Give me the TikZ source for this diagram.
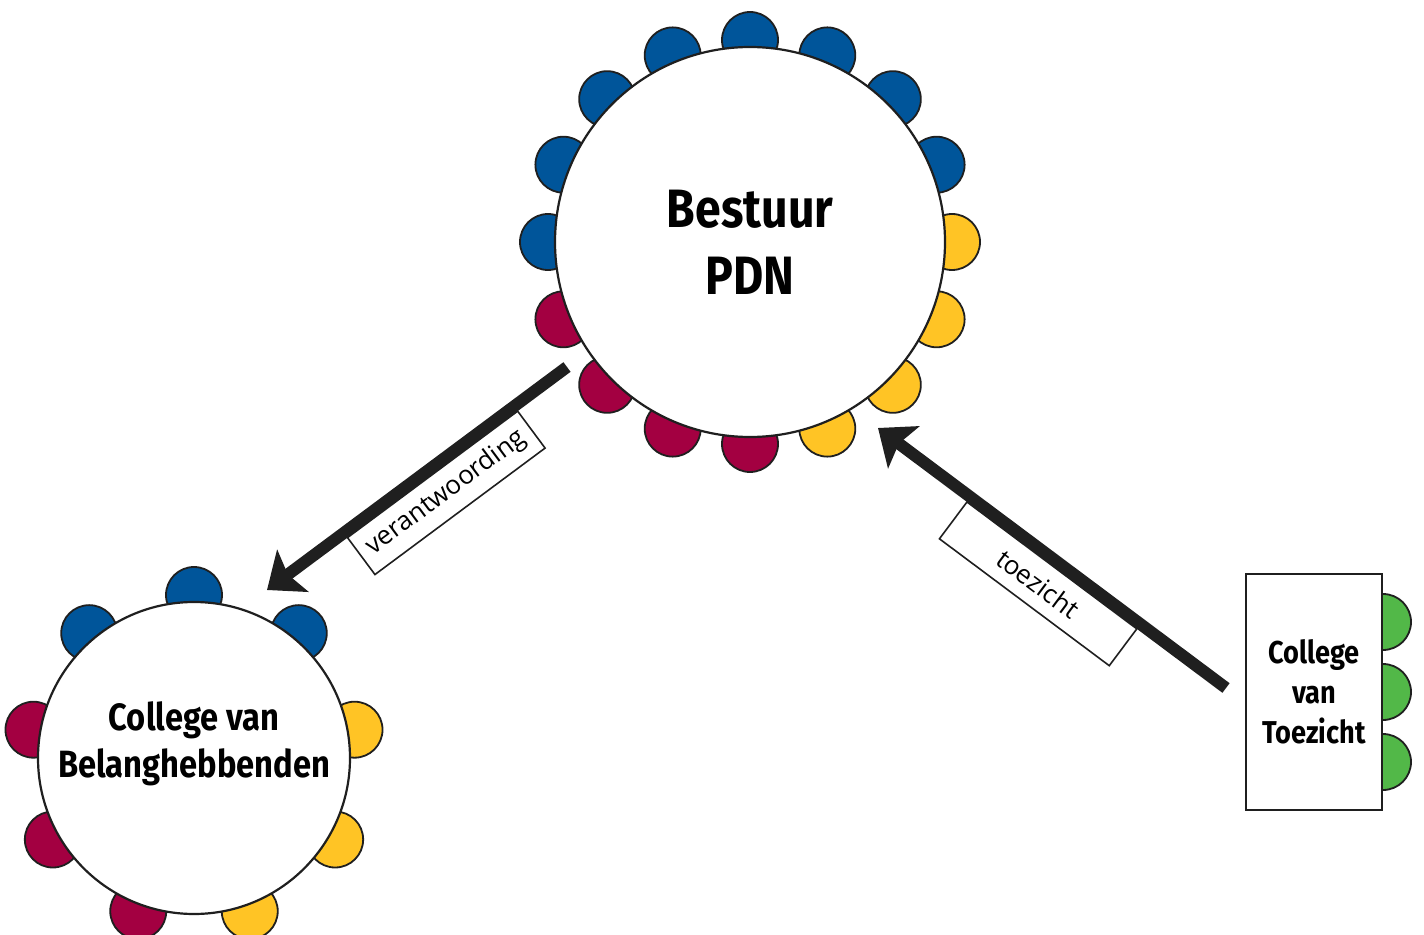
\documentclass[tikz,border=0pt]{standalone}
\usepackage{fontspec}
\usepackage{xcolor}
\usepackage{tikz}
\usetikzlibrary{arrows.meta}
\setmainfont{Open Sans}
\newfontfamily\titlefont[FakeStretch=0.86]{Fira Sans}
\definecolor{seatblue}{HTML}{00559A}
\definecolor{seatred}{HTML}{A30041}
\definecolor{seatyellow}{HTML}{FFC425}
\definecolor{seatgreen}{HTML}{52B848}
\colorlet{ink}{black!88}

\begin{document}
\begin{tikzpicture}[x=0.5pt, y=-0.5pt, every node/.style={inner sep=0pt},
  seat/.style={circle, draw=ink, line width=0.9pt, minimum size=28pt},
  tafel/.style={circle, draw=ink, line width=1.1pt, fill=white, minimum size=#1},
  flow/.style={draw=ink, line width=6pt, -{Stealth[length=16pt, width=26pt, inset=3pt]}},
  lbl/.style={draw=ink, line width=0.8pt, fill=white, minimum width=106pt, minimum height=23pt, sloped, anchor=north, outer sep=3pt, font=\fontsize{13}{15}\selectfont}]
  \useasboundingbox (0,0) rectangle (1424,935);

  % Bestuur
  \coordinate (pdn) at (750,242);
  \foreach \a/\c [count=\i] in {22.5/seatblue, 45/seatblue, 67.5/seatblue, 90/seatblue, 112.5/seatblue, 135/seatblue, 157.5/seatblue, 180/seatblue,
      202.5/seatred, 225/seatred, 247.5/seatred, 270/seatred, 0/seatyellow, -22.5/seatyellow, -45/seatyellow, -67.5/seatyellow}
    \node[seat, fill=\c] (bs\i) at ([shift={(\a:101pt)}]pdn) {};
  \node[tafel=195pt, align=center, font=\titlefont\bfseries\fontsize{27}{33.5}\selectfont] (bestuur) at (pdn) {Bestuur\\PDN};

  % College van Belanghebbenden
  \coordinate (cvbc) at (194,758);
  \foreach \a/\c [count=\i] in {50/seatblue, 90/seatblue, 130/seatblue, 170/seatred, 210/seatred, 250/seatred, 290/seatyellow, 330/seatyellow, 10/seatyellow}
    \node[seat, fill=\c] (cs\i) at ([shift={(\a:81.5pt)}]cvbc) {};
  \node[tafel=156pt, label={[yshift=7pt, align=center, font=\titlefont\bfseries\fontsize{19}{23.5}\selectfont]center:College van\\Belanghebbenden}] (cvb) at (cvbc) {};

  % College van Toezicht
  \foreach \y [count=\i] in {622,692,762}
    \node[seat, fill=seatgreen] (ts\i) at (1383,\y) {};
  \node[draw=ink, line width=1.1pt, fill=white, minimum width=68pt, minimum height=118pt, align=center, font=\titlefont\bfseries\fontsize{15.8}{20}\selectfont] (cvt) at (1314,692) {College\\van\\Toezicht};

  \coordinate (vfrom) at (567,367);
  \coordinate (vto) at (267,590);
  \coordinate (tfrom) at (1226,688);
  \coordinate (tto) at (878,428);
  \draw[flow] (vfrom) -- node[lbl, pos=0.46] {verantwoording} (vto);
  \draw[flow] (tfrom) -- node[lbl, pos=0.49] {toezicht} (tto);
\end{tikzpicture}
\end{document}
